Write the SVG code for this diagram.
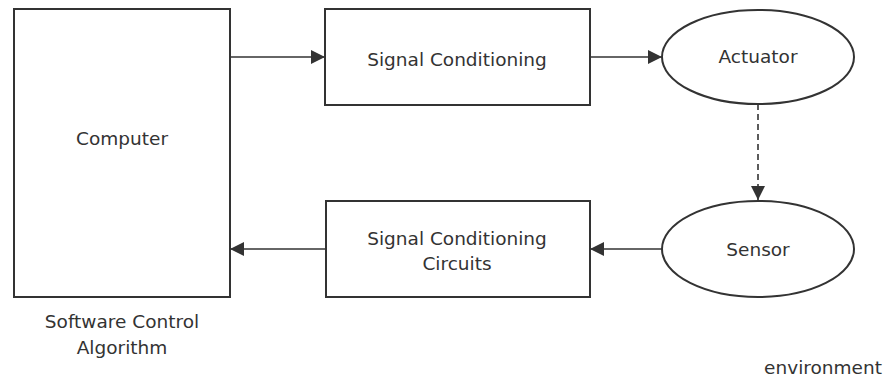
<svg xmlns="http://www.w3.org/2000/svg" width="885" height="379" viewBox="0 0 885 379">
  <style>
    .box { fill: #ffffff; stroke: #333333; stroke-width: 2; }
    .edge { fill: none; stroke: #333333; stroke-width: 1.6; }
    .dash { stroke-dasharray: 6 4; }
    text { font-family: "DejaVu Sans", Verdana, sans-serif; font-size: 18.5px; fill: #333333; text-anchor: middle; }
  </style>
  <defs>
    <marker id="arrow" viewBox="0 0 14 14" refX="14" refY="7" markerWidth="14" markerHeight="14" markerUnits="userSpaceOnUse" orient="auto">
      <path d="M0,0 L14,7 L0,14 Z" fill="#333333"/>
    </marker>
  </defs>
  <rect width="885" height="379" fill="#ffffff"/>

  <g id="connectors">
    <path class="edge" d="M230,57 L325,57" marker-end="url(#arrow)"/>
    <path class="edge" d="M590,57 L662,57" marker-end="url(#arrow)"/>
    <path class="edge dash" d="M758,104 L758,200" marker-end="url(#arrow)"/>
    <path class="edge" d="M662,249 L590,249" marker-end="url(#arrow)"/>
    <path class="edge" d="M326,249 L230,249" marker-end="url(#arrow)"/>
  </g>

  <g id="computer">
    <rect class="box" x="14" y="9" width="216" height="288"/>
    <text x="122" y="145">Computer</text>
  </g>
  <g id="signal-conditioning">
    <rect class="box" x="325" y="9" width="265" height="96"/>
    <text x="457" y="66">Signal Conditioning</text>
  </g>
  <g id="actuator">
    <ellipse class="box" cx="758" cy="57" rx="96" ry="47"/>
    <text x="758" y="63">Actuator</text>
  </g>
  <g id="sensor">
    <ellipse class="box" cx="758" cy="249" rx="96" ry="48"/>
    <text x="758" y="256">Sensor</text>
  </g>
  <g id="signal-conditioning-circuits">
    <rect class="box" x="326" y="201" width="264" height="96"/>
    <text x="457" y="245">Signal Conditioning</text>
    <text x="457" y="270">Circuits</text>
  </g>
  <g id="software-label">
    <text x="122" y="328">Software Control</text>
    <text x="122" y="354">Algorithm</text>
  </g>
  <g id="environment-label">
    <text x="823" y="374">environment</text>
  </g>
</svg>
